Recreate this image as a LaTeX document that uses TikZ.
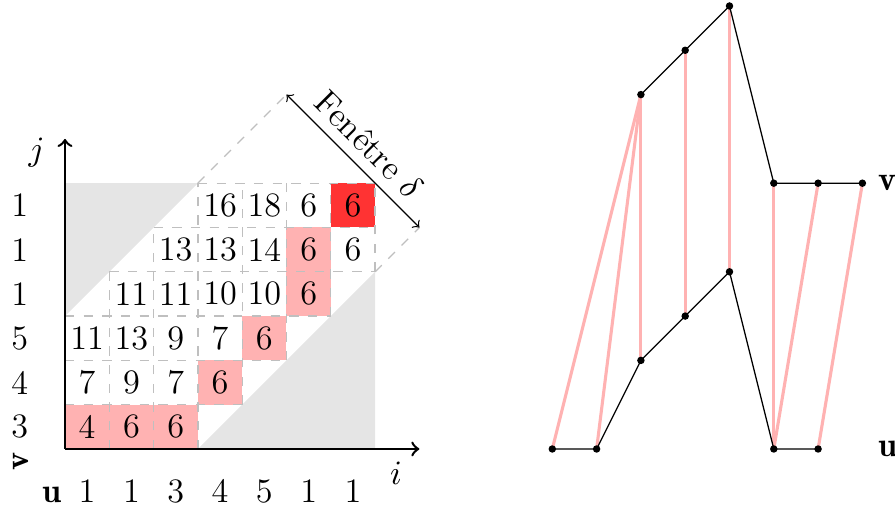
\documentclass[tikz,border=0pt]{standalone}
\usepackage{fontspec}
\tikzset{
 band/.style={gray!50,dashed},
 match/.style={red!30,line width=1pt},
 val/.style={inner sep=0pt},
}
\begin{document}
\begin{tikzpicture}[x=0.5cm,y=0.5cm,font=\fontsize{11}{13}\selectfont]
\useasboundingbox (-1.467,-1.40) rectangle (18.736,10.135);
% Zones hors fenêtre
\fill[gray!20] (0,3) -- (0,6) -- (3,6) -- cycle; \fill[gray!20] (3,0) -- (7,0) -- (7,4) -- cycle;
% Chemin optimal
\foreach \i/\j in {0/0,1/0,2/0,3/1,4/2,5/3,5/4}{\fill[red!30] (\i,\j) rectangle ++(1,1);}
\fill[red!80] (6,5) rectangle ++(1,1);
% Grille de la fenêtre
\foreach \y/\a/\b in {0/0/3,1/0/4,2/0/5,3/0/6,4/1/7,5/2/7,6/3/7}{\draw[band] (\a,\y) -- (\b,\y);}
\foreach \x/\a/\b in {0/0/3,1/0/4,2/0/5,3/0/6,4/1/6,5/2/6,6/3/6,7/4/6}{\draw[band] (\x,\a) -- (\x,\b);}
% Coûts cumulés
\foreach \j/\s/\vals in {0/0/{4,6,6},1/0/{7,9,7,6},2/0/{11,13,9,7,6},3/1/{11,11,10,10,6},4/2/{13,13,14,6,6},5/3/{16,18,6,6}}{
 \foreach \c [count=\k from 0] in \vals {\node[val] (c\j-\k) at (\s+\k+0.5,\j+0.5) {\c};}}
% Axes
\draw[thick,->] (0,0) -- (8,0); \draw[thick,->] (0,0) -- (0,7);
\node (ilab) at (7.47,-0.55) {$i$}; \node (jlab) at (-0.64,6.7) {$j$};
% Séries u et v
\foreach \v [count=\k from 0] in {1,1,3,4,5,1,1}{\node[anchor=base] (ul\k) at (\k+0.5,-1.2) {\v};}
\foreach \v [count=\k from 0] in {3,4,5,1,1,1}{\node (vl\k) at (-1.02,\k+0.5) {\v};}
\node[anchor=base] (ubold) at (-0.3,-1.2) {$\mathbf{u}$}; \node[rotate=90,val] (vbold) at (-1.0,-0.29) {$\mathbf{v}$};
% Fenêtre delta
\coordinate (wtop) at (5,8); \coordinate (wbot) at (8,5);
\draw[band] (3,6) -- (wtop); \draw[band] (7,4) -- (wbot);
\draw[<->] (wtop) -- (wbot) node[midway,sloped,above] (wlab) {Fenêtre $\delta$};
% Alignement des deux séries
\foreach \v [count=\k from 0] in {1,1,3,4,5,1,1}{\coordinate (u\k) at (11+\k,\v-1);}
\foreach \v [count=\k from 0] in {3,4,5,1,1,1}{\coordinate (v\k) at (13+\k,5+\v);}
\foreach \a/\b in {0/0,1/0,2/0,3/1,4/2,5/3,5/4,6/5}{\draw[match] (u\a) -- (v\b);}
\draw (u0) \foreach \k in {1,...,6}{ -- (u\k)}; \draw (v0) \foreach \k in {1,...,5}{ -- (v\k)};
\foreach \k in {0,...,6}{\fill (u\k) circle (1.2pt);} \foreach \k in {0,...,5}{\fill (v\k) circle (1.2pt);}
\node[anchor=west,val] (useries) at (18.35,0) {$\mathbf{u}$}; \node[anchor=west,val] (vseries) at (18.35,6) {$\mathbf{v}$};
\end{tikzpicture}
\end{document}
